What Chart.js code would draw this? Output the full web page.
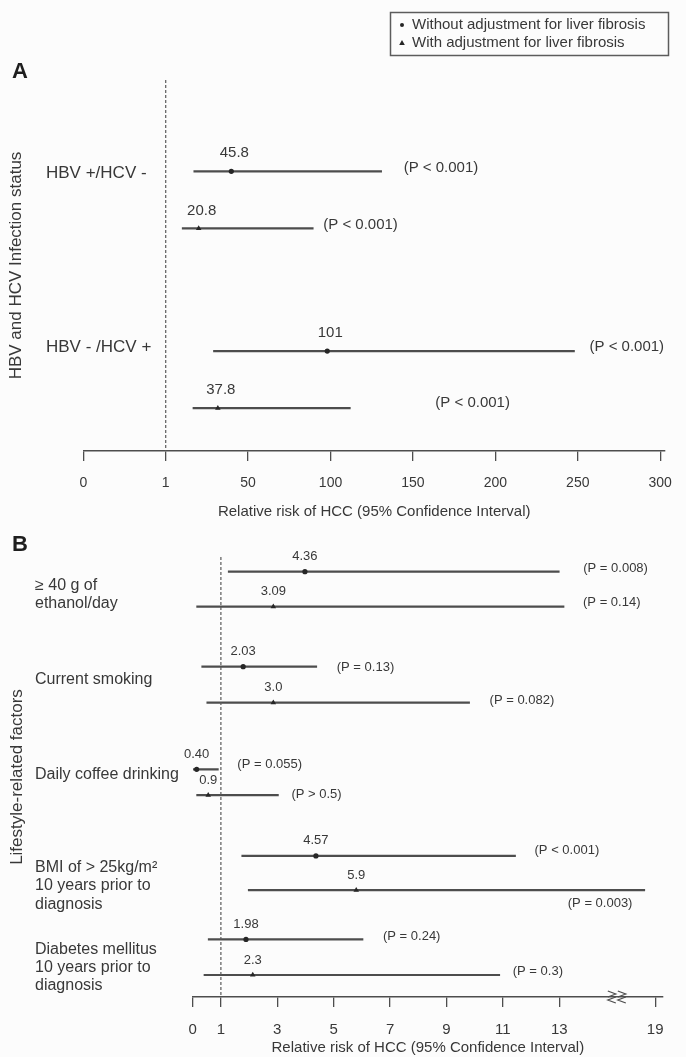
<!DOCTYPE html>
<html>
<head>
<meta charset="utf-8">
<title>Relative risk of HCC</title>
<script src="https://cdn.jsdelivr.net/npm/chart.js@4/dist/chart.umd.min.js"></script>
<style>
  html, body { margin: 0; padding: 0; background: #fcfcfc; }
  canvas { display: block; }
</style>
</head>
<body>
<canvas id="chart-a" width="686" height="522"></canvas>
<canvas id="chart-b" width="686" height="535"></canvas>
<script>
// =============================================
// Data
// =============================================
const seriesNames = ['Without adjustment for liver fibrosis', 'With adjustment for liver fibrosis'];
const xTitle = 'Relative risk of HCC (95% Confidence Interval)';

// Panel A — rows go: group 1 without, group 1 with, group 2 without, group 2 with
const groupsA   = ['HBV +/HCV -', 'HBV - /HCV +'];
const estTextA  = ['45.8', '20.8', '101', '37.8'];
const estA      = [40, 20.6, 98, 32];          // where the marks sit on the drawn axis
const lowA      = [17.7, 10.8, 29.4, 17.2];
const highA     = [131, 89.5, 248, 112];
const pTextA    = ['(P < 0.001)', '(P < 0.001)', '(P < 0.001)', '(P < 0.001)'];
const tickValsA = [0, 1, 50, 100, 150, 200, 250, 300];

// Panel B
const groupsB = [
  ['≥ 40 g of', 'ethanol/day'],
  'Current smoking',
  'Daily coffee drinking',
  ['BMI of > 25kg/m²', '10 years prior to', 'diagnosis'],
  ['Diabetes mellitus', '10 years prior to', 'diagnosis']
];
const estTextB  = ['4.36', '3.09', '2.03', '3.0', '0.40', '0.9', '4.57', '5.9', '1.98', '2.3'];
const estB      = [3.98, 2.86, 1.79, 2.86, 0.14, 0.55, 4.37, 5.80, 1.89, 2.13];
const lowB      = [1.26, 0.14, 0.32, 0.50, 0.0, 0.14, 1.74, 1.97, 0.55, 0.40];
const highB     = [13.0, 13.3, 4.40, 9.82, 0.91, 3.04, 11.45, 18.35, 6.04, 10.89];
const pTextB    = ['(P = 0.008)', '(P = 0.14)', '(P = 0.13)', '(P = 0.082)', '(P = 0.055)',
                   '(P > 0.5)', '(P < 0.001)', '(P = 0.003)', '(P = 0.24)', '(P = 0.3)'];
const tickValsB = [0, 1, 3, 5, 7, 9, 11, 13, 19];

// =============================================
// Axis mapping (both axes in the figure are not plain linear)
// =============================================
// A: ticks are evenly spaced 0 | 1 | 50 | 100 ... 300
function posA(v) {
  if (v <= 1) return v;
  if (v <= 50) return 1 + (v - 1) / 49;
  return 2 + (v - 50) / 50;
}
// B: linear to 13, then squeezed past the axis break up to 19
const BREAK_B = 13;
function posB(v) {
  return v <= BREAK_B ? v : BREAK_B + (v - BREAK_B) * 0.567;
}

// =============================================
// Layout (row placement, label nudges)
// =============================================
const rowYA   = [1.6, 2.6, 4.75, 5.75];
const groupYA = [1.63, 4.68];
const pDxA    = [22, 10, 15, 85];
const pDyA    = [-3, -4, -4, -5];

const rowYB   = [0.42, 1.42, 3.14, 4.17, 6.08, 6.82, 8.56, 9.54, 10.95, 11.97];
const groupYB = [1.07, 3.5, 6.24, 9.42, 11.76];
const pDxB    = [24, 19, 20, 20, 19, 13, 19, -77, 20, 13];
const pDyB    = [-3, -4, 1, -2, -5, -1, -5, 13, -3, -4];

const FONT = "'Liberation Sans', Arial, Helvetica, sans-serif";
const TEXT = '#383838';
const INK  = '#262626';
const LINE = '#4d4d4d';

Chart.defaults.font.family = FONT;
Chart.defaults.color = TEXT;

// =============================================
// Forest plot builder
// =============================================
function makeForest(canvasId, cfg, extraPlugins) {
  const idx = cfg.est.map((_, i) => i);

  const ciData = idx.map(i => ({ y: cfg.rowY[i], x: [cfg.pos(cfg.low[i]), cfg.pos(cfg.high[i])] }));
  const marks = (k) => idx.filter(i => i % 2 === k)
    .map(i => ({ x: cfg.pos(cfg.est[i]), y: cfg.rowY[i] }));

  const textPlugin = {
    id: 'forestText',
    afterDatasetsDraw(chart) {
      const { ctx, scales: { x, y } } = chart;
      ctx.save();
      ctx.fillStyle = TEXT;
      ctx.textBaseline = 'middle';

      ctx.textAlign = 'center';
      ctx.font = `${cfg.numSize}px ${FONT}`;
      idx.forEach(i => {
        ctx.fillText(cfg.estText[i],
          x.getPixelForValue(cfg.pos(cfg.est[i])) + cfg.estDx,
          y.getPixelForValue(cfg.rowY[i]) - cfg.estRise);
      });

      ctx.textAlign = 'left';
      idx.forEach(i => {
        ctx.fillText(cfg.pText[i],
          x.getPixelForValue(cfg.pos(cfg.high[i])) + cfg.pDx[i],
          y.getPixelForValue(cfg.rowY[i]) + cfg.pDy[i]);
      });

      ctx.font = `bold 22px ${FONT}`;
      ctx.fillStyle = '#1e1e1e';
      ctx.fillText(cfg.letter, 12, cfg.letterY);
      ctx.restore();
    }
  };

  return new Chart(document.getElementById(canvasId), {
    type: 'scatter',
    data: {
      datasets: [
        {
          type: 'bar',
          indexAxis: 'y',
          data: ciData,
          backgroundColor: LINE,
          barThickness: 1.5,
          borderWidth: 0,
          order: 3
        },
        {
          label: seriesNames[0],
          data: marks(0),
          pointStyle: 'circle',
          pointRadius: 2.6,
          backgroundColor: INK,
          borderWidth: 0,
          order: 1
        },
        {
          label: seriesNames[1],
          data: marks(1),
          pointStyle: 'triangle',
          pointRadius: 3.2,
          backgroundColor: INK,
          borderWidth: 0,
          order: 1
        },
        {
          data: [{ x: cfg.pos(1), y: 0 }, { x: cfg.pos(1), y: cfg.yMax }],
          showLine: true,
          borderColor: '#5a5a5a',
          borderWidth: 1.2,
          borderDash: [3, 2],
          pointRadius: 0,
          order: 2
        }
      ]
    },
    options: {
      responsive: false,
      animation: false,
      events: [],
      layout: { padding: { left: 0, right: cfg.padRight, top: cfg.padTop, bottom: 0 } },
      plugins: { legend: { display: false }, tooltip: { enabled: false } },
      scales: {
        x: {
          type: 'linear',
          offset: false,
          min: 0,
          max: cfg.xMax,
          afterBuildTicks: (s) => { s.ticks = cfg.tickVals.map(v => ({ value: cfg.pos(v) })); },
          afterFit: (s) => { s.height = cfg.xHeight; },
          grid: { offset: false, drawOnChartArea: false, drawTicks: true, tickLength: 10, color: LINE, lineWidth: 1.3 },
          border: { display: true, color: LINE, width: 1.6 },
          ticks: {
            autoSkip: false,
            maxRotation: 0,
            padding: cfg.tickPad,
            color: TEXT,
            font: { size: cfg.tickSize },
            callback: (v, i) => String(cfg.tickVals[i])
          },
          title: {
            display: true,
            text: xTitle,
            color: TEXT,
            font: { size: 15 },
            padding: { top: 0, bottom: cfg.xTitlePadBottom }
          }
        },
        y: {
          type: 'linear',
          offset: false,
          min: 0,
          max: cfg.yMax,
          reverse: true,
          afterBuildTicks: (s) => { s.ticks = cfg.groupY.map(v => ({ value: v })); },
          afterFit: (s) => { s.width = cfg.left; },
          grid: { display: false, offset: false },
          border: { display: false },
          ticks: {
            autoSkip: false,
            mirror: true,
            crossAlign: 'near',
            padding: cfg.labelX - cfg.left,
            color: TEXT,
            font: { size: cfg.groupSize, lineHeight: 1.15 },
            callback: (v, i) => cfg.groups[i]
          },
          title: {
            display: true,
            text: cfg.yTitle,
            color: TEXT,
            font: { size: 17 },
            padding: { top: cfg.yTitlePad, bottom: 0 }
          }
        }
      }
    },
    plugins: [textPlugin].concat(extraPlugins || [])
  });
}

// =============================================
// Extra drawing: legend box (A) and axis break (B)
// =============================================
const legendBox = {
  id: 'legendBox',
  afterDraw(chart) {
    const { ctx } = chart;
    const items = chart.data.datasets.filter(d => d.label);
    const bx = 390.5, by = 12.5, bw = 278, bh = 43;
    ctx.save();
    ctx.strokeStyle = '#5c5c5c';
    ctx.lineWidth = 1.5;
    ctx.strokeRect(bx, by, bw, bh);
    ctx.font = `15px ${FONT}`;
    ctx.textBaseline = 'middle';
    ctx.textAlign = 'left';
    items.forEach((d, i) => {
      const cy = 25 + i * 18;
      const mx = 402;
      ctx.fillStyle = INK;
      ctx.beginPath();
      if (d.pointStyle === 'triangle') {
        ctx.moveTo(mx, cy - 3);
        ctx.lineTo(mx + 2.8, cy + 2);
        ctx.lineTo(mx - 2.8, cy + 2);
        ctx.closePath();
      } else {
        ctx.arc(mx, cy, 2, 0, Math.PI * 2);
      }
      ctx.fill();
      ctx.fillStyle = TEXT;
      ctx.fillText(d.label, 412, cy);
    });
    ctx.restore();
  }
};

const axisBreak = {
  id: 'axisBreak',
  afterDraw(chart) {
    const { ctx, scales: { x } } = chart;
    const at = BREAK_B + 0.6 * (posB(19) - BREAK_B);
    const cx = x.getPixelForValue(at);
    const cy = x.top;
    ctx.save();
    ctx.strokeStyle = LINE;
    ctx.lineWidth = 1.2;
    [-5, 5].forEach(dx => {
      const a = cx + dx;
      ctx.beginPath();
      ctx.moveTo(a - 4, cy - 6);
      ctx.lineTo(a + 4, cy - 3);
      ctx.lineTo(a - 4, cy);
      ctx.moveTo(a + 4, cy);
      ctx.lineTo(a - 4, cy + 3);
      ctx.lineTo(a + 4, cy + 6);
      ctx.stroke();
    });
    ctx.restore();
  }
};

// =============================================
// Charts
// =============================================
makeForest('chart-a', {
  pos: posA, est: estA, low: lowA, high: highA,
  estText: estTextA, pText: pTextA, pDx: pDxA, pDy: pDyA,
  rowY: rowYA, groupY: groupYA, groups: groupsA,
  tickVals: tickValsA,
  xMax: 7.06, yMax: 6.5,
  padTop: 80, padRight: 16, left: 83.3, labelX: 46,
  xHeight: 71, tickPad: 14, tickSize: 14, xTitlePadBottom: 1,
  groupSize: 17, yTitle: 'HBV and HCV Infection status', yTitlePad: 6.5,
  numSize: 15, estRise: 18, estDx: 3,
  letter: 'A', letterY: 72
}, [legendBox]);

makeForest('chart-b', {
  pos: posB, est: estB, low: lowB, high: highB,
  estText: estTextB, pText: pTextB, pDx: pDxB, pDy: pDyB,
  rowY: rowYB, groupY: groupYB, groups: groupsB,
  tickVals: tickValsB,
  xMax: 16.68, yMax: 12.6,
  padTop: 35, padRight: 23, left: 192.7, labelX: 35,
  xHeight: 60, tickPad: 14, tickSize: 15, xTitlePadBottom: 0,
  groupSize: 16, yTitle: 'Lifestyle-related factors', yTitlePad: 7.5,
  numSize: 13, estRise: 15, estDx: 0,
  letter: 'B', letterY: 23
}, [axisBreak]);
</script>
</body>
</html>
